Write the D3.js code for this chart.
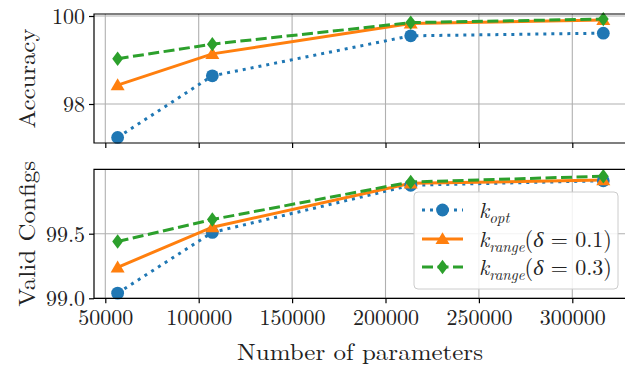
<!DOCTYPE html>
<html><head><meta charset="utf-8">
<script src="https://cdn.jsdelivr.net/npm/d3@7"></script>
<style>body{margin:0;background:#fff}svg{display:block}text{font-family:"Latin Modern Roman","CMU Serif","Liberation Serif",serif;fill:#222}</style>
</head><body><svg id="c" width="625" height="366"></svg>
<script>
const params = [56600, 107300, 213500, 316600];
const accKopt = [97.24, 98.64, 99.55, 99.61];
const accK01 = [98.43, 99.14, 99.83, 99.91];
const accK03 = [99.03, 99.36, 99.85, 99.93];
const validKopt = [99.04, 99.51, 99.875, 99.91];
const validK01 = [99.24, 99.55, 99.89, 99.915];
const validK03 = [99.44, 99.61, 99.90, 99.945];
const xTicks = [50000, 100000, 150000, 200000, 250000, 300000];
const accTicks = [98, 100];
const validTicks = [99.0, 99.5];
const seriesNames = ["opt", "range", "range"];
const deltas = [null, "0.1", "0.3"];

const colors = ["#1f77b4", "#ff7f0e", "#2ca02c"];
const dashes = ["3,5", null, "11,4.5"];
const svg = d3.select("#c");
const L = 94, R = 628;
const x = d3.scaleLinear().domain([50000, 300000]).range([105.3, 572.3]);

const panels = [
  {top: 14, bottom: 143, dom: [98, 100], rng: [104, 16], ticks: accTicks, fmt: d3.format("d"), label: "Accuracy", len: 100, data: [accKopt, accK01, accK03], xlabels: false},
  {top: 169.3, bottom: 298.3, dom: [99.0, 99.5], rng: [298.3, 233.7], ticks: validTicks, fmt: d3.format(".1f"), label: "Valid Configs", len: 146, data: [validKopt, validK01, validK03], xlabels: true}
];

const diamond = {draw(ctx, size){ const h=7.2, w=5.4; ctx.moveTo(0,-h); ctx.lineTo(w,0); ctx.lineTo(0,h); ctx.lineTo(-w,0); ctx.closePath(); }};
const tri = {draw(ctx, size){ const h=6.8, w=7; ctx.moveTo(0,-h); ctx.lineTo(w,h*0.75); ctx.lineTo(-w,h*0.75); ctx.closePath(); }};
function marker(g, i, cx, cy){
  if(i===0) g.append("circle").attr("cx",cx).attr("cy",cy).attr("r",6.4).attr("fill",colors[0]);
  else g.append("path").attr("d", d3.symbol().type(i===1?tri:diamond)()).attr("transform",`translate(${cx},${cy})`).attr("fill",colors[i]);
}

panels.forEach(p => {
  const y = d3.scaleLinear().domain(p.dom).range(p.rng);
  const g = svg.append("g");
  g.append("clipPath").attr("id","cp"+p.top).append("rect").attr("x",L).attr("y",p.top).attr("width",R-L).attr("height",p.bottom-p.top);
  xTicks.forEach(t => g.append("line").attr("x1",x(t)).attr("x2",x(t)).attr("y1",p.top).attr("y2",p.bottom).attr("stroke","#b0b0b0").attr("stroke-width",1.1));
  p.ticks.forEach(t => g.append("line").attr("x1",L).attr("x2",R).attr("y1",y(t)).attr("y2",y(t)).attr("stroke","#b0b0b0").attr("stroke-width",1.1));
  const ya = g.append("g").attr("transform",`translate(${L},0)`).call(d3.axisLeft(y).tickValues(p.ticks).tickFormat(p.fmt).tickSize(5).tickPadding(4));
  ya.select(".domain").remove();
  ya.selectAll("text").style("font-size","22px").attr("fill","#222").attr("dy","0.34em");
  ya.selectAll("line").attr("stroke","#000").attr("stroke-width",1.2);
  const xa = g.append("g").attr("transform",`translate(0,${p.bottom})`).call(d3.axisBottom(x).tickValues(xTicks).tickFormat(p.xlabels? d3.format("d") : "").tickSize(5).tickPadding(6));
  xa.select(".domain").remove();
  xa.selectAll("line").attr("stroke","#000").attr("stroke-width",1.2);
  xa.selectAll("text").style("font-size","22px").attr("fill","#222");
  const lg = g.append("g").attr("clip-path",`url(#cp${p.top})`);
  p.data.forEach((vals,i) => {
    const line = d3.line().x((d,j)=>x(params[j])).y(d=>y(d));
    lg.append("path").attr("d", line(vals)).attr("fill","none").attr("stroke",colors[i]).attr("stroke-width",3)
      .attr("stroke-dasharray", dashes[i]);
  });
  p.data.forEach((vals,i) => vals.forEach((v,j)=> marker(g, i, x(params[j]), y(v))));
  g.append("path").attr("d",`M${R},${p.top}H${L}V${p.bottom}H${R}`).attr("fill","none").attr("stroke","#000").attr("stroke-width",1.2);
  g.append("text").attr("transform",`translate(27,${(p.top+p.bottom)/2}) rotate(-90)`).attr("text-anchor","middle").attr("dy","0.35em")
    .attr("textLength",p.len).attr("lengthAdjust","spacingAndGlyphs").style("font-size","23px").text(p.label);
});

svg.append("text").attr("x",360).attr("y",352).attr("text-anchor","middle").attr("dy","0.35em")
  .attr("textLength",246).attr("lengthAdjust","spacingAndGlyphs").style("font-size","23px").text("Number of parameters");

const lgd = svg.append("g");
lgd.append("rect").attr("x",414).attr("y",192).attr("width",204).attr("height",97).attr("rx",4).attr("fill","#fff").attr("fill-opacity",0.85).attr("stroke","#ccc").attr("stroke-width",1);
const rows = [210, 239, 267];
rows.forEach((ry,i) => {
  lgd.append("line").attr("x1",422).attr("x2",463).attr("y1",ry).attr("y2",ry).attr("stroke",colors[i]).attr("stroke-width",3).attr("stroke-dasharray",dashes[i]);
  marker(lgd, i, 442.5, ry);
  const t = lgd.append("text").attr("x",479).attr("y",ry).attr("dy","0.35em").style("font-size","22px");
  t.append("tspan").style("font-style","italic").text("k");
  t.append("tspan").style("font-style","italic").style("font-size","15px").attr("dy","5").text(seriesNames[i]);
  if(deltas[i]){
    t.append("tspan").attr("dy","-5").text("(");
    t.append("tspan").style("font-style","italic").text("δ");
    t.append("tspan").text(" = " + deltas[i] + ")");
  }
});
</script></body></html>
